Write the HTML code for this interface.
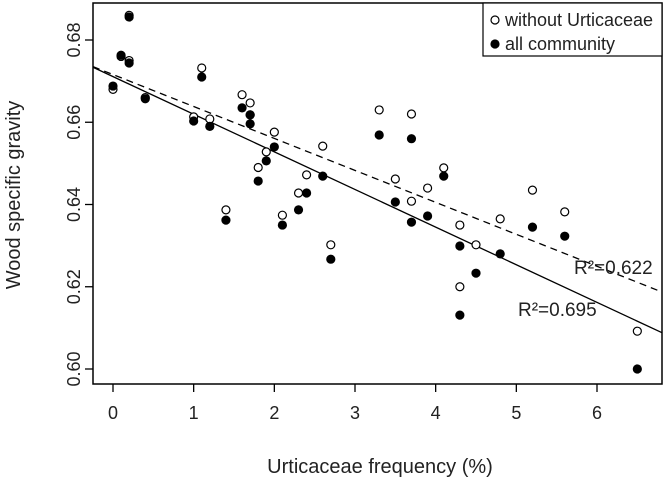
<!DOCTYPE html>
<html><head><meta charset="utf-8"><style>
body{margin:0;background:#fff}
svg{display:block;font-family:"Liberation Sans",Arial,sans-serif}
</style></head><body>
<svg id="chart" width="666" height="482" viewBox="0 0 666 482" xmlns="http://www.w3.org/2000/svg"></svg>
<script>
const xVals=[0,0.1,0.2,0.2,0.4,1.0,1.1,1.2,1.4,1.6,1.7,1.7,1.8,1.9,2.0,2.1,2.3,2.4,2.6,2.7,3.3,3.5,3.7,3.7,3.9,4.1,4.3,4.3,4.5,4.8,5.2,5.6,6.5];
const openVals=[0.668,0.676,0.686,0.675,0.666,0.6613,0.6732,0.6608,0.6387,0.6667,0.6647,0.6618,0.649,0.6528,0.6576,0.6374,0.6428,0.6472,0.6542,0.6302,0.663,0.6462,0.662,0.6408,0.644,0.6489,0.635,0.620,0.6302,0.6365,0.6435,0.6382,0.6092];
const allVals=[0.6688,0.6763,0.6856,0.6744,0.6657,0.6603,0.671,0.659,0.6362,0.6635,0.6596,0.6618,0.6457,0.6506,0.654,0.635,0.6387,0.6428,0.6469,0.6267,0.6569,0.6406,0.656,0.6357,0.6372,0.6469,0.6299,0.6131,0.6233,0.628,0.6345,0.6323,0.600];
const xTicks=[0,1,2,3,4,5,6];
const yTicks=[0.60,0.62,0.64,0.66,0.68];
const fitAll=[0.6711,-0.00915];
const fitOpen=[0.6716,-0.00777];
const NS="http://www.w3.org/2000/svg";
const svg=document.getElementById('chart');
const L=93,R=662,T=3,B=384;
const xs=v=>113+v*(597-113)/6;
const ys=v=>369-(v-0.60)*(369-40)/0.08;
function el(tag,attrs,txt){const e=document.createElementNS(NS,tag);for(const k in attrs)e.setAttribute(k,attrs[k]);if(txt!==undefined)e.textContent=txt;svg.appendChild(e);return e;}
let e;
e=el('rect',{x:L,y:T,width:R-L,height:B-T,fill:'none',stroke:'#000','stroke-width':1.5});


xTicks.forEach(t=>{
 e=el('line',{x1:xs(t),x2:xs(t),y1:B,y2:B+8,stroke:'#000','stroke-width':1.3});
 
 
 e=el('text',{x:xs(t),y:419,'text-anchor':'middle','font-size':18,fill:'#222'},String(t));
 
 
});
yTicks.forEach(t=>{
 e=el('line',{x1:L-8,x2:L,y1:ys(t),y2:ys(t),stroke:'#000','stroke-width':1.3});
 
 
 e=el('text',{x:0,y:0,'text-anchor':'middle','font-size':18,fill:'#222',transform:`translate(80,${ys(t)}) rotate(-90)`},t.toFixed(2));
 
 
});
e=el('text',{x:380,y:473,'text-anchor':'middle','font-size':20,fill:'#222'},'Urticaceae frequency (%)');


e=el('text',{x:0,y:0,'text-anchor':'middle','font-size':20,fill:'#222',transform:'translate(20,195) rotate(-90)'},'Wood specific gravity');


const x0=(L-113)*6/(597-113), x1=(R-113)*6/(597-113);
e=el('line',{x1:L,x2:R,y1:ys(fitOpen[0]+fitOpen[1]*x0),y2:ys(fitOpen[0]+fitOpen[1]*x1),stroke:'#000','stroke-width':1.3,'stroke-dasharray':'7,5'});


e=el('line',{x1:L,x2:R,y1:ys(fitAll[0]+fitAll[1]*x0),y2:ys(fitAll[0]+fitAll[1]*x1),stroke:'#000','stroke-width':1.3});


xVals.forEach((x,i)=>{
 e=el('circle',{cx:xs(x),cy:ys(openVals[i]),r:4,fill:'#fff',stroke:'#000','stroke-width':1.2});
 
 
});
xVals.forEach((x,i)=>{
 e=el('circle',{cx:xs(x),cy:ys(allVals[i]),r:4.6,fill:'#000'});
 
 
});
e=el('text',{x:574,y:274,'font-size':19,fill:'#222'},'R²=0.622');


e=el('text',{x:518,y:316,'font-size':19,fill:'#222'},'R²=0.695');


e=el('rect',{x:483,y:T,width:R-483,height:53,fill:'#fff',stroke:'#000','stroke-width':1.2});


e=el('circle',{cx:495,cy:20,r:4,fill:'#fff',stroke:'#000','stroke-width':1.2});


e=el('text',{x:505,y:26,'font-size':18,fill:'#222'},'without Urticaceae');


e=el('circle',{cx:495,cy:44,r:4.6,fill:'#000'});


e=el('text',{x:505,y:50,'font-size':18,fill:'#222'},'all community');


</script>
</body></html>
